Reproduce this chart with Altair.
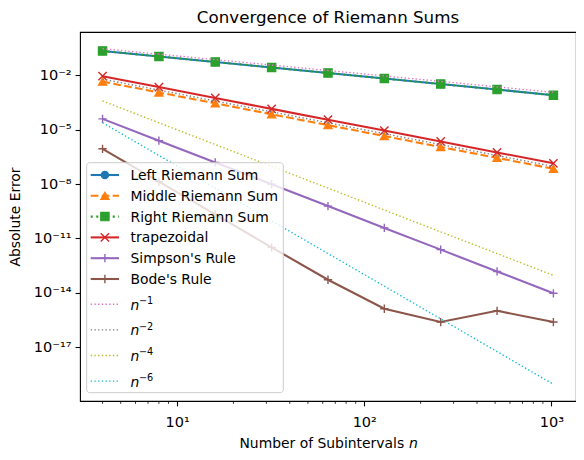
import math
import altair as alt
import pandas as pd

# number of subintervals
n_values = [4, 8, 16, 32, 64, 128, 256, 512, 1024]

# absolute errors
left_riemann = [0.226, 0.112, 0.0556, 0.0275, 0.01365, 0.00676, 0.00335, 0.00166, 0.000813]
middle_riemann = [4.57e-3, 1.15e-3, 2.88e-4, 7.2e-5, 1.8e-5, 4.5e-6, 1.12e-6, 2.8e-7, 7.0e-8]
right_riemann = [0.226, 0.112, 0.0556, 0.0275, 0.01365, 0.00676, 0.00335, 0.00166, 0.000813]
trapezoidal = [9.1e-3, 2.29e-3, 5.7e-4, 1.43e-4, 3.6e-5, 9.0e-6, 2.25e-6, 5.6e-7, 1.4e-7]
simpson = [4.0e-5, 2.5e-6, 1.56e-7, 9.8e-9, 6.1e-10, 3.8e-11, 2.4e-12, 1.5e-13, 9.3e-15]
bode = [8.9e-7, 1.38e-8, 2.1e-10, 3.2e-12, 5.2e-14, 1.3e-15, 2.4e-16, 1.0e-15, 2.4e-16]

# reference slopes
ref_n1 = [0.3, 0.15, 0.075, 0.0375, 0.0188, 0.0094, 0.0047, 0.00234, 0.00117]
ref_n2 = [6.25e-3, 1.56e-3, 3.9e-4, 9.8e-5, 2.44e-5, 6.1e-6, 1.53e-6, 3.8e-7, 9.5e-8]
ref_n4 = [3.9e-4, 2.44e-5, 1.53e-6, 9.5e-8, 6.0e-9, 3.7e-10, 2.3e-11, 1.46e-12, 9.1e-14]
ref_n6 = [2.44e-5, 3.8e-7, 6.0e-9, 9.3e-11, 1.46e-12, 2.3e-14, 3.6e-16, 5.6e-18, 8.7e-20]

x_tick_values = [10, 100, 1000]
x_tick_labels = ["10\u00b9", "10\u00b2", "10\u00b3"]
x_minor_values = [4, 5, 6, 7, 8, 9, 20, 30, 40, 50, 60, 70, 80, 90,
                  200, 300, 400, 500, 600, 700, 800, 900]
y_tick_values = [1e-2, 1e-5, 1e-8, 1e-11, 1e-14, 1e-17]
y_tick_labels = ["10\u207b\u00b2", "10\u207b\u2075", "10\u207b\u2078",
                 "10\u207b\u00b9\u00b9", "10\u207b\u00b9\u2074", "10\u207b\u00b9\u2077"]

FONT = "DejaVu Sans"
W, H = 496, 369
X_PATH = "M-1,-1L1,1M-1,1L1,-1"
PLUS_PATH = "M-1,0L1,0M0,-1L0,1"
X_TITLE = "Number of Subintervals \U0001d62f"
Y_TITLE = "Absolute Error"


def label_expr(values, labels):
    expr = "''"
    for v, lab in zip(reversed(values), reversed(labels)):
        expr = f"round(log(datum.value)/LN10) == {round(math.log10(v))} ? '{lab}' : ({expr})"
    return expr


x_scale = alt.Scale(type="log", domain=[3.031, 1352], nice=False)
y_scale = alt.Scale(type="log", domain=[10 ** -19.98, 10 ** 0.40], nice=False)

x_axis = alt.Axis(values=x_tick_values, labelExpr=label_expr(x_tick_values, x_tick_labels),
                  grid=False, domain=False, tickSize=4.9, tickWidth=1.1, tickColor="black",
                  labelFont=FONT, labelFontSize=14.5, labelColor="black", labelPadding=10,
                  labelFlush=False, titleFont=FONT, titleFontSize=13.9, titleFontWeight="normal",
                  titleColor="black", titlePadding=7)
y_axis = alt.Axis(values=y_tick_values, labelExpr=label_expr(y_tick_values, y_tick_labels),
                  grid=False, domain=False, tickSize=4.9, tickWidth=1.1, tickColor="black",
                  labelFont=FONT, labelFontSize=14.5, labelColor="black", labelPadding=4,
                  labelFlush=False, titleFont=FONT, titleFontSize=13.9, titleFontWeight="normal",
                  titleColor="black", titlePadding=11)

X = alt.X("n:Q", scale=x_scale, axis=x_axis, title=X_TITLE)
Y = alt.Y("err:Q", scale=y_scale, axis=y_axis, title=Y_TITLE)

series = [
    ("Left Riemann Sum", left_riemann, "#1f77b4", None, "circle", True, 54),
    ("Middle Riemann Sum", middle_riemann, "#ff7f0e", [7.7, 3.3], "triangle-up", True, 69),
    ("Right Riemann Sum", right_riemann, "#2ca02c", [2.1, 3.4], "square", True, 69),
    ("trapezoidal", trapezoidal, "#d62728", None, X_PATH, False, 69),
    ("Simpson's Rule", simpson, "#9467bd", None, PLUS_PATH, False, 69),
    ("Bode's Rule", bode, "#8c564b", None, PLUS_PATH, False, 69),
]
refs = [
    ("\u22121", ref_n1, "#e377c2"),
    ("\u22122", ref_n2, "#7f7f7f"),
    ("\u22124", ref_n4, "#bcbd22"),
    ("\u22126", ref_n6, "#17becf"),
]

layers = []

# minor ticks along the bottom of the log x axis
minor_df = pd.DataFrame({"n": x_minor_values})
layers.append(alt.Chart(minor_df).mark_rule(color="black", strokeWidth=0.8).encode(
    x=X, y=alt.value(H), y2=alt.value(H + 2.8)))

for name, vals, color, dash, shape, filled, size in series:
    df = pd.DataFrame({"n": n_values, "err": vals})
    line_kw = dict(color=color, strokeWidth=2.08, clip=True)
    if dash:
        line_kw["strokeDash"] = dash
    layers.append(alt.Chart(df).mark_line(**line_kw).encode(x=X, y=Y))
    if filled:
        pt = alt.Chart(df).mark_point(shape=shape, filled=True, size=size, color=color,
                                      stroke=color, strokeWidth=1.2, opacity=1)
    else:
        pt = alt.Chart(df).mark_point(shape=shape, filled=False, size=size, color=color,
                                      strokeWidth=1.4, opacity=1)
    layers.append(pt.encode(x=X, y=Y))

for sup, vals, color in refs:
    df = pd.DataFrame({"n": n_values, "err": vals})
    layers.append(alt.Chart(df).mark_line(color=color, strokeWidth=1.39,
                                          strokeDash=[1.4, 2.3], clip=True).encode(x=X, y=Y))

# legend (inside the plot, lower left)
box = alt.Chart(pd.DataFrame({"a": [0]})).mark_rect(
    fill="white", fillOpacity=0.8, stroke="#cccccc", strokeWidth=1, cornerRadius=3
).encode(x=alt.value(6.7), x2=alt.value(203.3), y=alt.value(130.7), y2=alt.value(360.7))
layers.append(box)

for i, (name, vals, color, dash, shape, filled, size) in enumerate(series):
    ry = 143 + 20.8 * i
    d = pd.DataFrame({"label": [name]})
    rk = dict(color=color, strokeWidth=2.08)
    if dash:
        rk["strokeDash"] = dash
    layers.append(alt.Chart(d).mark_rule(**rk).encode(
        x=alt.value(10.7), x2=alt.value(39), y=alt.value(ry)))
    if filled:
        mk = alt.Chart(d).mark_point(shape=shape, filled=True, size=size, color=color,
                                     stroke=color, strokeWidth=1.2, opacity=1)
    else:
        mk = alt.Chart(d).mark_point(shape=shape, filled=False, size=size, color=color,
                                     strokeWidth=1.4, opacity=1)
    layers.append(mk.encode(x=alt.value(24.9), y=alt.value(ry)))
    layers.append(alt.Chart(d).mark_text(font=FONT, fontSize=13.9, color="black",
                                         align="left", baseline="alphabetic").encode(
        x=alt.value(50.5), y=alt.value(ry + 5), text="label:N"))

for j, (sup, vals, color) in enumerate(refs):
    ry = 272.3 + 25.6 * j
    d = pd.DataFrame({"base": ["n"], "sup": [sup]})
    layers.append(alt.Chart(d).mark_rule(color=color, strokeWidth=1.39, strokeDash=[1.4, 2.3]).encode(
        x=alt.value(10.7), x2=alt.value(39), y=alt.value(ry)))
    layers.append(alt.Chart(d).mark_text(font=FONT, fontSize=13.9, fontStyle="italic", color="black",
                                         align="left", baseline="alphabetic").encode(
        x=alt.value(50.5), y=alt.value(ry + 5.5), text="base:N"))
    layers.append(alt.Chart(d).mark_text(font=FONT, fontSize=9.7, color="black",
                                         align="left", baseline="alphabetic").encode(
        x=alt.value(59), y=alt.value(ry - 0.3), text="sup:N"))

chart = alt.layer(*layers).properties(
    width=W, height=H,
    title=alt.TitleParams("Convergence of Riemann Sums", font=FONT, fontSize=16.7,
                          fontWeight="normal", color="black", anchor="middle",
                          frame="group", offset=5),
    autosize=alt.AutoSizeParams(type="none"),
    padding={"left": 72, "top": 24, "right": 0, "bottom": 54},
).configure_view(stroke="black", strokeWidth=1.1)

chart.save("out.html", embed_options={"renderer": "svg", "actions": False})
